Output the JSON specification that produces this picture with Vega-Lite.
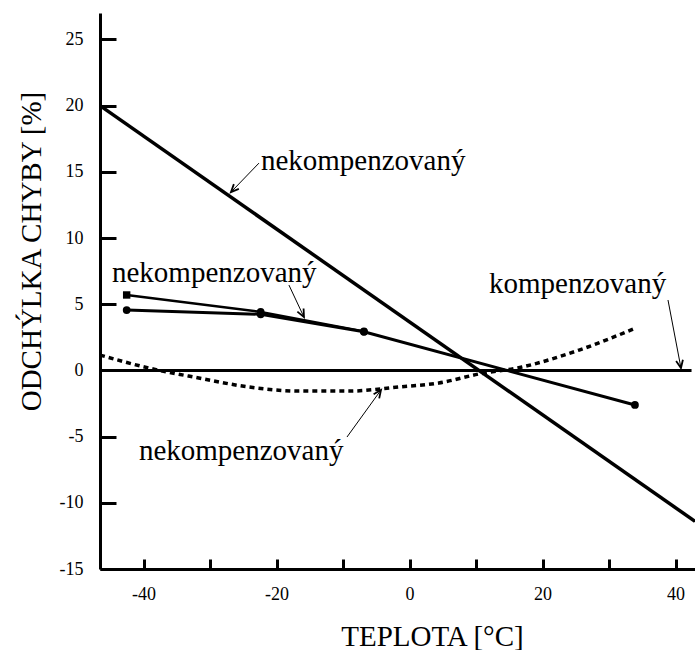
{
  "$schema": "https://vega.github.io/schema/vega-lite/v6.json",
  "width": 595,
  "height": 556,
  "autosize": {"type": "none"},
  "padding": {"left": 100, "top": 13, "right": 0, "bottom": 81},
  "background": "white",
  "config": {"view": {"stroke": null}, "font": "Liberation Serif"},
  "datasets": {
    "steep": [{"t": -46.55, "v": 20}, {"t": 42.92, "v": -11.4}],
    "zero": [{"t": -46.55, "v": 0}, {"t": 42.4, "v": 0}],
    "branchLow": [
      {"t": -42.54, "v": 4.56},
      {"t": -22.39, "v": 4.24},
      {"t": -6.86, "v": 2.92},
      {"t": 33.89, "v": -2.61}
    ],
    "branchUp": [
      {"t": -42.54, "v": 5.7},
      {"t": -22.39, "v": 4.42},
      {"t": -6.86, "v": 2.95}
    ],
    "dashed": [
      {"t": -46.55, "v": 1.16},
      {"t": -39.2, "v": 0.18},
      {"t": -31.7, "v": -0.57},
      {"t": -24.2, "v": -1.25},
      {"t": -16.6, "v": -1.56},
      {"t": -9.1, "v": -1.56},
      {"t": -1.6, "v": -1.25},
      {"t": 4.4, "v": -0.95},
      {"t": 10.4, "v": -0.27},
      {"t": 16.9, "v": 0.26},
      {"t": 25.5, "v": 1.54},
      {"t": 34.0, "v": 3.2}
    ],
    "labels": [
      {"t": -22.35, "v": 15.14, "label": "nekompenzovaný"},
      {"t": -44.75, "v": 6.68, "label": "nekompenzovaný"},
      {"t": 11.94, "v": 5.85, "label": "kompenzovaný"},
      {"t": -40.7, "v": -6.77, "label": "nekompenzovaný"}
    ],
    "arrows": [
      {"id": "A", "t": -22.65, "v": 15.66, "t2": -26.86, "v2": 13.47},
      {"id": "B", "t": -18.14, "v": 6.45, "t2": -15.88, "v2": 4.03},
      {"id": "C", "t": 38.86, "v": 5.32, "t2": 40.81, "v2": 0.18},
      {"id": "D", "t": -9.41, "v": -5.03, "t2": -4.3, "v2": -1.48}
    ]
  },
  "encoding": {
    "x": {
      "field": "t",
      "type": "quantitative",
      "scale": {"domain": [-46.55, 42.92], "nice": false, "zero": false},
      "axis": {
        "values": [-40, -30, -20, -10, 0, 10, 20, 30, 40],
        "labelExpr": "datum.value % 20 === 0 ? toString(datum.value) : ''",
        "grid": false,
        "tickSize": -10,
        "tickWidth": 3,
        "tickColor": "black",
        "domainWidth": 3,
        "domainColor": "black",
        "labelColor": "black",
        "labelFont": "Liberation Serif",
        "labelFontSize": 18,
        "labelPadding": 26,
        "title": "TEPLOTA [°C]",
        "titleFont": "Liberation Serif",
        "titleFontSize": 29,
        "titleFontWeight": "normal",
        "titleColor": "black",
        "titleX": 332,
        "titleY": 76,
        "titleAlign": "center",
        "titleBaseline": "alphabetic"
      }
    },
    "y": {
      "field": "v",
      "type": "quantitative",
      "scale": {"domain": [-15, 27], "nice": false, "zero": false},
      "axis": {
        "values": [-15, -10, -5, 0, 5, 10, 15, 20, 25],
        "labelExpr": "toString(datum.value)",
        "grid": false,
        "tickSize": -16,
        "tickWidth": 3,
        "tickColor": "black",
        "domainWidth": 3,
        "domainColor": "black",
        "labelColor": "black",
        "labelFont": "Liberation Serif",
        "labelFontSize": 18,
        "labelPadding": 33,
        "title": "ODCHÝLKA CHYBY [%]",
        "titleFont": "Liberation Serif",
        "titleFontSize": 29,
        "titleFontWeight": "normal",
        "titleColor": "black",
        "titleX": -60,
        "titleY": 238,
        "titleAngle": -90,
        "titleAlign": "center",
        "titleBaseline": "alphabetic"
      }
    }
  },
  "layer": [
    {"data": {"name": "steep"}, "mark": {"type": "line", "color": "black", "strokeWidth": 3.5}},
    {"data": {"name": "zero"}, "mark": {"type": "line", "color": "black", "strokeWidth": 3}},
    {"data": {"name": "branchUp"}, "mark": {"type": "line", "color": "black", "strokeWidth": 2.5}},
    {"data": {"name": "branchLow"}, "mark": {"type": "line", "color": "black", "strokeWidth": 3}},
    {"data": {"name": "branchLow"}, "mark": {"type": "point", "shape": "circle", "filled": true, "color": "black", "opacity": 1, "size": 60}},
    {"data": {"name": "branchUp"}, "transform": [{"filter": "datum.t > -40"}], "mark": {"type": "point", "shape": "circle", "filled": true, "color": "black", "opacity": 1, "size": 60}},
    {"data": {"name": "branchUp"}, "transform": [{"filter": "datum.t < -40"}], "mark": {"type": "point", "shape": "square", "filled": true, "color": "black", "opacity": 1, "size": 55}},
    {"data": {"name": "dashed"}, "mark": {"type": "line", "color": "black", "strokeWidth": 3.5, "strokeDash": [5, 4], "interpolate": "monotone"}},
    {"data": {"name": "arrows"}, "mark": {"type": "rule", "color": "black", "strokeWidth": 1}, "encoding": {"x2": {"field": "t2"}, "y2": {"field": "v2"}}},
    {"data": {"name": "arrows"}, "transform": [{"filter": "datum.id === 'A'"}], "mark": {"type": "point", "shape": "M-0.4,0.9L0,0L0.4,0.9", "filled": false, "color": "black", "opacity": 1, "strokeWidth": 1.8, "size": 300, "angle": 224}, "encoding": {"x": {"field": "t2", "type": "quantitative"}, "y": {"field": "v2", "type": "quantitative"}}},
    {"data": {"name": "arrows"}, "transform": [{"filter": "datum.id === 'B'"}], "mark": {"type": "point", "shape": "M-0.4,0.9L0,0L0.4,0.9", "filled": false, "color": "black", "opacity": 1, "strokeWidth": 1.8, "size": 300, "angle": 153.4}, "encoding": {"x": {"field": "t2", "type": "quantitative"}, "y": {"field": "v2", "type": "quantitative"}}},
    {"data": {"name": "arrows"}, "transform": [{"filter": "datum.id === 'C'"}], "mark": {"type": "point", "shape": "M-0.4,0.9L0,0L0.4,0.9", "filled": false, "color": "black", "opacity": 1, "strokeWidth": 1.8, "size": 300, "angle": 169.2}, "encoding": {"x": {"field": "t2", "type": "quantitative"}, "y": {"field": "v2", "type": "quantitative"}}},
    {"data": {"name": "arrows"}, "transform": [{"filter": "datum.id === 'D'"}], "mark": {"type": "point", "shape": "M-0.4,0.9L0,0L0.4,0.9", "filled": false, "color": "black", "opacity": 1, "strokeWidth": 1.8, "size": 300, "angle": 35.9}, "encoding": {"x": {"field": "t2", "type": "quantitative"}, "y": {"field": "v2", "type": "quantitative"}}},
    {"data": {"name": "labels"}, "mark": {"type": "text", "align": "left", "baseline": "alphabetic", "font": "Liberation Serif", "fontSize": 29, "color": "black"}, "encoding": {"text": {"field": "label"}}}
  ]
}
